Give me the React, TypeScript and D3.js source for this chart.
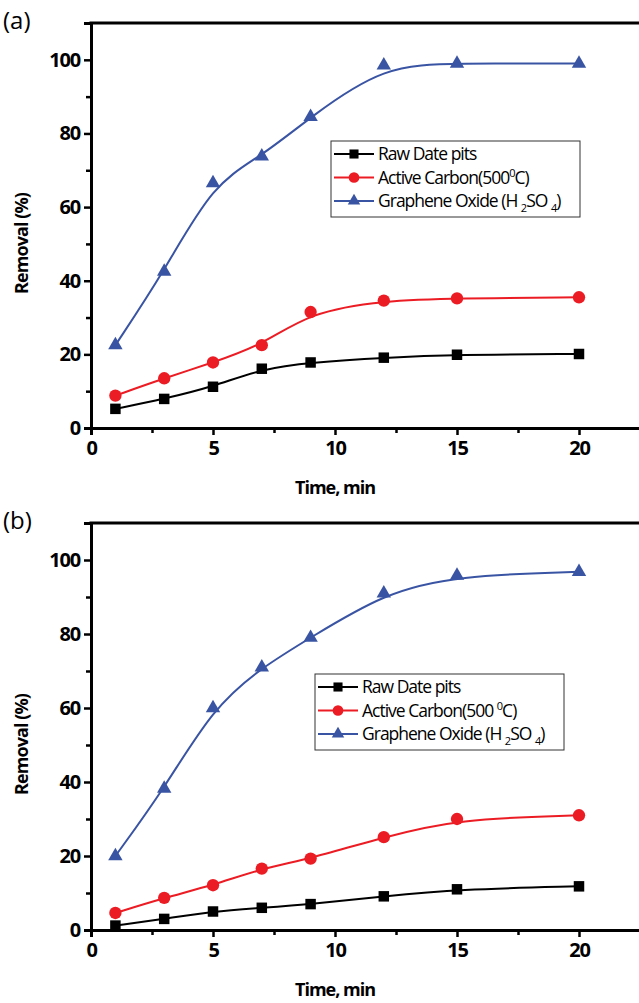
import { useEffect, useRef } from 'react'
import * as d3 from 'd3'

// time points (min)
const times = [1, 3, 5, 7, 9, 12, 15, 20]

// panel (a)
const rawA = [5.2, 7.9, 11.2, 16.1, 17.8, 19.1, 19.9, 20.1]
const carbonA = [8.8, 13.5, 17.8, 22.5, 31.5, 34.6, 35.2, 35.5]
const grapheneA = [22.5, 42.5, 66.5, 73.8, 84.5, 98.5, 99, 99]

// panel (b)
const rawB = [1.2, 3, 5, 6, 7, 9.1, 11, 11.8]
const carbonB = [4.6, 8.7, 12.1, 16.6, 19.3, 25.1, 30, 31]
const grapheneB = [20, 38.2, 60, 71, 79, 91, 95.8, 96.8]

const xTicks = [0, 5, 10, 15, 20]
const xMinor = [2.5, 7.5, 12.5, 17.5, 22.5]
const yTicks = [0, 20, 40, 60, 80, 100]
const yMinor = [10, 30, 50, 70, 90]

const black = '#000000', red = '#ec1c24', blue = '#3a54a4'
const font = '"Open Sans", "Liberation Sans", sans-serif'

type Panel = {
    tag: string
    top: number
    bottom: number
    legendX: number
    legendY: number
    raw: number[]
    carbon: number[]
    graphene: number[]
    degSpace: boolean
}

const panels: Panel[] = [
    { tag: '(a)', top: 23, bottom: 428, legendX: 331, legendY: 141, raw: rawA, carbon: carbonA, graphene: grapheneA, degSpace: false },
    { tag: '(b)', top: 523, bottom: 930, legendX: 315, legendY: 674, raw: rawB, carbon: carbonB, graphene: grapheneB, degSpace: true },
]

export default function App() {
    const ref = useRef<SVGSVGElement | null>(null)

    useEffect(() => {
        document.body.style.margin = '0'
        const svg = d3.select(ref.current)
        svg.selectAll('*').remove()

        const left = 91
        const xScale = d3.scaleLinear().domain([0, 22.5]).range([left, left + 22.5 * 24.4])

        panels.forEach((p) => {
            const g = svg.append('g')
            const yScale = d3.scaleLinear().domain([0, 110]).range([p.bottom, p.top])

            // panel tag
            g.append('text')
                .attr('x', 3)
                .attr('y', p.top + 6)
                .style('font-family', font)
                .style('font-size', '24px')
                .text(p.tag)

            // top frame
            g.append('line')
                .attr('x1', left - 1.5)
                .attr('x2', 639)
                .attr('y1', p.top)
                .attr('y2', p.top)
                .attr('stroke', black)
                .attr('stroke-width', 3)

            // x axis
            const xAxis = d3.axisBottom(xScale).tickValues(xTicks).tickSizeOuter(0).tickSize(7).tickPadding(6)
            const xg = g.append('g').attr('transform', `translate(0, ${p.bottom})`).call(xAxis)
            xg.select('.domain').attr('stroke-width', 3)
            xg.selectAll('line').attr('stroke-width', 2.5)
            xg.selectAll('text')
                .style('font-family', font)
                .style('font-weight', 'bold')
                .style('font-size', '20px')
                .style('letter-spacing', '-1.2px')
                .attr('fill', black)

            g.append('g')
                .attr('transform', `translate(0, ${p.bottom})`)
                .call(d3.axisBottom(xScale).tickValues(xMinor).tickSize(5).tickFormat(() => ''))
                .call((s) => s.select('.domain').remove())
                .selectAll('line').attr('stroke-width', 2.5)

            // y axis
            const yAxis = d3.axisLeft(yScale).tickValues(yTicks).tickSizeOuter(0).tickSize(7).tickPadding(4)
            const yg = g.append('g').attr('transform', `translate(${left}, 0)`).call(yAxis)
            yg.select('.domain').attr('stroke-width', 3)
            yg.selectAll('line').attr('stroke-width', 2.5)
            yg.selectAll('text')
                .style('font-family', font)
                .style('font-weight', 'bold')
                .style('font-size', '20px')
                .style('letter-spacing', '-1.2px')
                .attr('fill', black)

            g.append('g')
                .attr('transform', `translate(${left}, 0)`)
                .call(d3.axisLeft(yScale).tickValues(yMinor).tickSize(5).tickFormat(() => ''))
                .call((s) => s.select('.domain').remove())
                .selectAll('line').attr('stroke-width', 2.5)

            // axis titles
            g.append('text')
                .attr('transform', `translate(28, ${(p.top + p.bottom) / 2 + 18}) rotate(-90)`)
                .attr('text-anchor', 'middle')
                .style('font-family', font)
                .style('font-weight', 'bold')
                .style('font-size', '18px')
                .style('letter-spacing', '-0.9px')
                .text('Removal (%)')

            g.append('text')
                .attr('x', 335)
                .attr('y', p.bottom + 66)
                .attr('text-anchor', 'middle')
                .style('font-family', font)
                .style('font-weight', 'bold')
                .style('font-size', '18px')
                .style('letter-spacing', '-1px')
                .text('Time, min')

            const line = d3.line<number>()
                .x((_, i) => xScale(times[i]))
                .y((d) => yScale(d))
                .curve(d3.curveBasis)

            const series = [
                { values: p.raw, color: black, symbol: d3.symbolSquare, size: 110 },
                { values: p.carbon, color: red, symbol: d3.symbolCircle, size: 120 },
                { values: p.graphene, color: blue, symbol: d3.symbolTriangle, size: 90 },
            ]

            series.forEach((s) => {
                g.append('path')
                    .attr('d', line(s.values))
                    .attr('fill', 'none')
                    .attr('stroke', s.color)
                    .attr('stroke-width', 2)

                g.selectAll(null)
                    .data(s.values)
                    .join('path')
                    .attr('d', d3.symbol().type(s.symbol).size(s.size)())
                    .attr('transform', (d, i) => `translate(${xScale(times[i])}, ${yScale(d)})`)
                    .attr('fill', s.color)
            })

            // legend
            const lg = g.append('g').attr('transform', `translate(${p.legendX}, ${p.legendY})`)
            lg.append('rect')
                .attr('width', 249)
                .attr('height', 76)
                .attr('fill', 'white')
                .attr('stroke', '#333')
                .attr('stroke-width', 1)

            series.forEach((s, i) => {
                const cy = 13 + i * 23.5
                lg.append('line')
                    .attr('x1', 3)
                    .attr('x2', 43)
                    .attr('y1', cy)
                    .attr('y2', cy)
                    .attr('stroke', s.color)
                    .attr('stroke-width', 2)
                lg.append('path')
                    .attr('d', d3.symbol().type(s.symbol).size(s.size * 0.75)())
                    .attr('transform', `translate(23, ${cy})`)
                    .attr('fill', s.color)

                const t = lg.append('text')
                    .attr('x', 47)
                    .attr('y', cy + 6)
                    .style('font-family', font)
                    .style('font-size', '17.5px')
                    .style('letter-spacing', '-1px')

                if (i === 0) t.text('Raw Date pits')
                if (i === 1) {
                    t.append('tspan').text(p.degSpace ? 'Active Carbon(500 ' : 'Active Carbon(500')
                    t.append('tspan').attr('dy', -7).style('font-size', '11px').text('0')
                    t.append('tspan').attr('dy', 7).text('C)')
                }
                if (i === 2) {
                    t.append('tspan').text('Graphene Oxide (H ')
                    t.append('tspan').attr('dy', 5).style('font-size', '11px').text('2')
                    t.append('tspan').attr('dy', -5).text('SO ')
                    t.append('tspan').attr('dy', 5).style('font-size', '11px').text('4')
                    t.append('tspan').attr('dy', -5).text(')')
                }
            })
        })
    }, [])

    return (
        <div>
            <svg ref={ref} width={639} height={1003} style={{ display: 'block', background: 'white' }}></svg>
        </div>
    )
}
